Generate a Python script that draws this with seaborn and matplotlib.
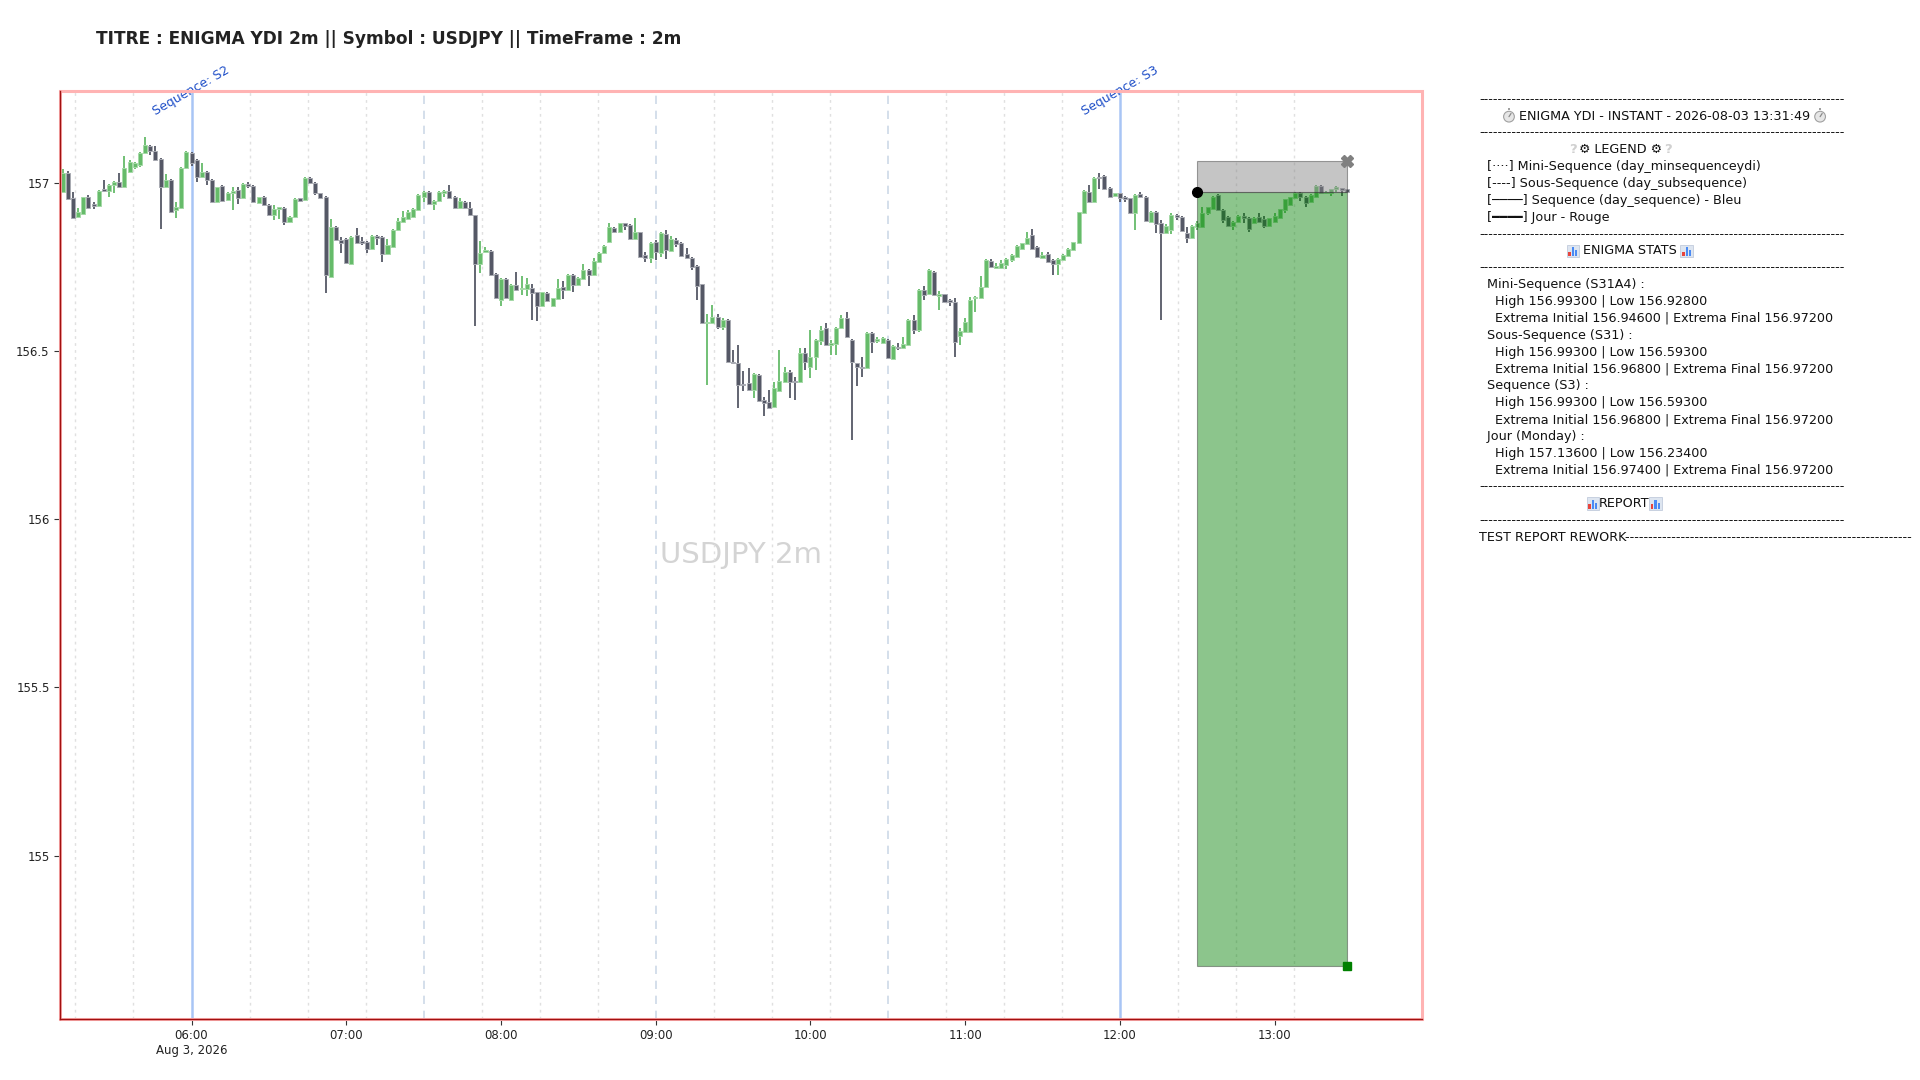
import numpy as np
import pandas as pd
import matplotlib
matplotlib.use("Agg")
import matplotlib.pyplot as plt
import matplotlib.dates as mdates
from matplotlib.patches import Rectangle, Circle
import seaborn as sns

# USDJPY 2m candles, Monday 3 Aug 2026, first candle 05:10
start = "2026-08-03 05:10"
opens = [156.973, 157.029, 156.955, 156.899, 156.906, 156.958, 156.936, 156.930, 156.980, 156.976,
         156.993, 157.003, 156.988, 157.032, 157.047, 157.052, 157.087, 157.109, 157.094, 157.069,
         156.986, 157.007, 156.918, 156.923, 157.042, 157.089, 157.067, 157.017, 157.032, 157.007,
         156.943, 156.990, 156.948, 156.968, 156.978, 156.953, 156.996, 156.990, 156.940, 156.958,
         156.933, 156.904, 156.921, 156.923, 156.884, 156.899, 156.953, 156.948, 157.012, 157.000,
         156.968, 156.958, 156.720, 156.869, 156.829, 156.831, 156.757, 156.844, 156.826, 156.824,
         156.804, 156.841, 156.839, 156.787, 156.809, 156.859, 156.883, 156.893, 156.898, 156.918,
         156.958, 156.973, 156.935, 156.945, 156.970, 156.975, 156.958, 156.923, 156.943, 156.925,
         156.903, 156.757, 156.795, 156.797, 156.727, 156.651, 156.713, 156.651, 156.697, 156.684,
         156.684, 156.688, 156.674, 156.634, 156.671, 156.634, 156.654, 156.690, 156.681, 156.725,
         156.696, 156.713, 156.740, 156.725, 156.763, 156.790, 156.824, 156.866, 156.852, 156.879,
         156.874, 156.832, 156.852, 156.785, 156.775, 156.824, 156.790, 156.846, 156.797, 156.829,
         156.819, 156.787, 156.777, 156.753, 156.698, 156.582, 156.582, 156.602, 156.572, 156.592,
         156.468, 156.463, 156.401, 156.404, 156.384, 156.428, 156.354, 156.347, 156.334, 156.381,
         156.408, 156.436, 156.409, 156.408, 156.493, 156.453, 156.483, 156.529, 156.567, 156.517,
         156.520, 156.567, 156.599, 156.532, 156.463, 156.453, 156.450, 156.552, 156.530, 156.522,
         156.532, 156.475, 156.512, 156.507, 156.517, 156.592, 156.562, 156.681, 156.668, 156.735,
         156.664, 156.668, 156.651, 156.646, 156.545, 156.557, 156.557, 156.656, 156.658, 156.691,
         156.767, 156.745, 156.747, 156.755, 156.770, 156.780, 156.804, 156.816, 156.844, 156.809,
         156.775, 156.787, 156.770, 156.757, 156.770, 156.783, 156.800, 156.819, 156.908, 156.971,
         156.943, 157.017, 157.020, 156.985, 156.961, 156.968, 156.958, 156.953, 156.908, 156.965,
         156.958, 156.884, 156.913, 156.879, 156.849, 156.859, 156.903, 156.898, 156.849, 156.834,
         156.867, 156.867, 156.908, 156.920, 156.963, 156.918, 156.898, 156.871, 156.884, 156.900,
         156.896, 156.879, 156.898, 156.891, 156.871, 156.884, 156.894, 156.918, 156.933, 156.953,
         156.968, 156.958, 156.943, 156.958, 156.990, 156.970, 156.970, 156.980, 156.983, 156.980]
highs = [157.039, 157.033, 156.973, 156.923, 156.958, 156.963, 156.943, 156.978, 157.007, 156.995,
         157.005, 157.029, 157.079, 157.067, 157.062, 157.092, 157.136, 157.111, 157.107, 157.072,
         157.025, 157.010, 156.943, 157.045, 157.095, 157.092, 157.069, 157.059, 157.035, 157.010,
         156.988, 156.993, 156.973, 156.986, 156.988, 156.998, 157.003, 156.993, 156.958, 156.960,
         156.935, 156.933, 156.928, 156.926, 156.901, 156.953, 156.955, 157.015, 157.015, 157.002,
         156.970, 156.960, 156.891, 156.871, 156.839, 156.834, 156.841, 156.866, 156.839, 156.826,
         156.844, 156.844, 156.841, 156.831, 156.861, 156.895, 156.915, 156.918, 156.923, 156.965,
         156.975, 156.975, 156.948, 156.975, 156.978, 156.992, 156.960, 156.955, 156.945, 156.943,
         156.905, 156.826, 156.809, 156.800, 156.730, 156.716, 156.716, 156.698, 156.735, 156.723,
         156.717, 156.700, 156.676, 156.676, 156.676, 156.658, 156.713, 156.707, 156.727, 156.727,
         156.718, 156.757, 156.742, 156.775, 156.795, 156.814, 156.881, 156.869, 156.881, 156.881,
         156.876, 156.894, 156.854, 156.795, 156.822, 156.829, 156.852, 156.859, 156.842, 156.836,
         156.822, 156.806, 156.780, 156.755, 156.700, 156.609, 156.636, 156.609, 156.599, 156.594,
         156.503, 156.518, 156.440, 156.450, 156.433, 156.430, 156.364, 156.384, 156.408, 156.503,
         156.453, 156.443, 156.423, 156.508, 156.508, 156.562, 156.535, 156.575, 156.582, 156.532,
         156.572, 156.607, 156.616, 156.535, 156.465, 156.483, 156.555, 156.555, 156.542, 156.542,
         156.535, 156.518, 156.522, 156.542, 156.594, 156.605, 156.684, 156.694, 156.743, 156.737,
         156.678, 156.670, 156.653, 156.658, 156.567, 156.597, 156.661, 156.663, 156.723, 156.773,
         156.773, 156.760, 156.770, 156.775, 156.787, 156.814, 156.821, 156.854, 156.862, 156.811,
         156.795, 156.793, 156.772, 156.775, 156.787, 156.806, 156.824, 156.913, 156.977, 156.993,
         157.016, 157.027, 157.022, 156.987, 156.970, 156.970, 156.961, 156.955, 156.965, 156.971,
         156.960, 156.916, 156.916, 156.889, 156.876, 156.908, 156.906, 156.900, 156.869, 156.874,
         156.887, 156.928, 156.928, 156.960, 156.965, 156.920, 156.900, 156.886, 156.903, 156.908,
         156.898, 156.898, 156.908, 156.900, 156.896, 156.908, 156.922, 156.952, 156.958, 156.973,
         156.973, 156.960, 156.965, 156.992, 156.993, 156.975, 156.982, 156.990, 156.985, 156.982]
lows = [156.968, 156.948, 156.892, 156.897, 156.904, 156.920, 156.920, 156.928, 156.973, 156.956,
        156.970, 156.983, 156.986, 157.029, 157.039, 157.045, 157.084, 157.082, 157.064, 156.861,
        156.983, 156.910, 156.894, 156.920, 157.040, 157.049, 157.003, 157.015, 156.993, 156.940,
        156.940, 156.943, 156.946, 156.918, 156.936, 156.950, 156.983, 156.940, 156.938, 156.930,
        156.901, 156.889, 156.891, 156.874, 156.879, 156.897, 156.943, 156.946, 156.997, 156.963,
        156.953, 156.671, 156.718, 156.826, 156.790, 156.757, 156.755, 156.817, 156.814, 156.790,
        156.801, 156.814, 156.765, 156.784, 156.806, 156.856, 156.880, 156.890, 156.895, 156.915,
        156.943, 156.933, 156.918, 156.943, 156.958, 156.953, 156.920, 156.920, 156.920, 156.900,
        156.575, 156.730, 156.790, 156.722, 156.655, 156.634, 156.653, 156.648, 156.679, 156.666,
        156.664, 156.592, 156.588, 156.631, 156.644, 156.631, 156.651, 156.654, 156.679, 156.676,
        156.693, 156.710, 156.693, 156.722, 156.760, 156.787, 156.821, 156.849, 156.849, 156.859,
        156.830, 156.830, 156.777, 156.765, 156.760, 156.770, 156.780, 156.772, 156.794, 156.809,
        156.780, 156.772, 156.740, 156.651, 156.580, 156.399, 156.579, 156.565, 156.562, 156.466,
        156.461, 156.329, 156.381, 156.381, 156.361, 156.349, 156.305, 156.329, 156.331, 156.379,
        156.406, 156.359, 156.354, 156.406, 156.443, 156.418, 156.443, 156.517, 156.515, 156.488,
        156.488, 156.565, 156.540, 156.234, 156.396, 156.423, 156.448, 156.493, 156.522, 156.520,
        156.475, 156.473, 156.503, 156.505, 156.515, 156.549, 156.557, 156.651, 156.666, 156.663,
        156.621, 156.643, 156.634, 156.483, 156.517, 156.555, 156.555, 156.616, 156.656, 156.689,
        156.747, 156.743, 156.743, 156.743, 156.765, 156.777, 156.800, 156.814, 156.802, 156.775,
        156.772, 156.762, 156.725, 156.725, 156.767, 156.780, 156.797, 156.817, 156.906, 156.941,
        156.941, 156.981, 156.978, 156.956, 156.958, 156.943, 156.943, 156.906, 156.859, 156.953,
        156.883, 156.881, 156.849, 156.593, 156.846, 156.846, 156.889, 156.854, 156.821, 156.831,
        156.859, 156.864, 156.905, 156.918, 156.915, 156.881, 156.869, 156.859, 156.881, 156.881,
        156.854, 156.876, 156.881, 156.864, 156.869, 156.881, 156.891, 156.908, 156.930, 156.950,
        156.946, 156.928, 156.940, 156.955, 156.968, 156.966, 156.960, 156.973, 156.960, 156.970]
closes = [157.027, 156.950, 156.894, 156.913, 156.956, 156.923, 156.930, 156.976, 156.976, 156.993,
          157.003, 156.988, 157.042, 157.062, 157.059, 157.089, 157.111, 157.095, 157.067, 156.988,
          157.006, 156.913, 156.928, 157.042, 157.092, 157.059, 157.017, 157.032, 157.007, 156.943,
          156.986, 156.946, 156.970, 156.975, 156.953, 156.996, 156.990, 156.943, 156.956, 156.933,
          156.904, 156.920, 156.926, 156.884, 156.899, 156.950, 156.946, 157.012, 157.000, 156.968,
          156.955, 156.725, 156.869, 156.829, 156.821, 156.760, 156.839, 156.819, 156.819, 156.804,
          156.841, 156.834, 156.787, 156.814, 156.859, 156.886, 156.898, 156.913, 156.920, 156.963,
          156.973, 156.935, 156.945, 156.973, 156.975, 156.955, 156.923, 156.945, 156.923, 156.903,
          156.757, 156.792, 156.800, 156.725, 156.658, 156.713, 156.656, 156.696, 156.681, 156.688,
          156.698, 156.671, 156.634, 156.674, 156.648, 156.656, 156.686, 156.681, 156.725, 156.696,
          156.715, 156.740, 156.725, 156.767, 156.792, 156.812, 156.869, 156.852, 156.879, 156.871,
          156.832, 156.854, 156.780, 156.777, 156.819, 156.795, 156.849, 156.800, 156.832, 156.816,
          156.783, 156.775, 156.750, 156.694, 156.582, 156.585, 156.602, 156.572, 156.592, 156.468,
          156.463, 156.399, 156.399, 156.384, 156.430, 156.351, 156.344, 156.331, 156.391, 156.411,
          156.436, 156.408, 156.407, 156.493, 156.468, 156.483, 156.532, 156.562, 156.517, 156.522,
          156.569, 156.597, 156.542, 156.468, 156.453, 156.450, 156.552, 156.527, 156.535, 156.539,
          156.478, 156.515, 156.507, 156.520, 156.591, 156.562, 156.681, 156.666, 156.740, 156.666,
          156.668, 156.646, 156.644, 156.525, 156.559, 156.585, 156.651, 156.661, 156.691, 156.770,
          156.750, 156.753, 156.760, 156.773, 156.785, 156.812, 156.819, 156.836, 156.804, 156.780,
          156.785, 156.765, 156.757, 156.773, 156.785, 156.804, 156.822, 156.911, 156.975, 156.943,
          157.014, 157.012, 156.981, 156.958, 156.968, 156.955, 156.951, 156.908, 156.963, 156.958,
          156.886, 156.913, 156.876, 156.849, 156.872, 156.905, 156.898, 156.856, 156.834, 156.871,
          156.881, 156.910, 156.926, 156.958, 156.918, 156.889, 156.871, 156.884, 156.901, 156.894,
          156.861, 156.896, 156.884, 156.871, 156.894, 156.901, 156.920, 156.950, 156.956, 156.968,
          156.958, 156.938, 156.963, 156.990, 156.970, 156.973, 156.980, 156.986, 156.978, 156.972]

# sequence / sub-sequence markers
seq_times = ["2026-08-03 06:00", "2026-08-03 12:00"]
seq_names = ["Sequence: S2", "Sequence: S3"]
sub_times = ["2026-08-03 07:30", "2026-08-03 09:00", "2026-08-03 10:30"]

# position tool
pos_start = "2026-08-03 12:30"
pos_end = "2026-08-03 13:28"
pos_entry = 156.972
pos_stop = 157.065
pos_target = 154.673

hour_ticks = ["06:00", "07:00", "08:00", "09:00", "10:00", "11:00", "12:00", "13:00"]
ytick_vals = [155.0, 155.5, 156.0, 156.5, 157.0]

# icons {W} stopwatch, {Q} question mark, {C} bar chart: no installed font has them
panel_lines = [
    "-" * 79,
    "      {W} ENIGMA YDI - INSTANT - 2026-08-03 13:31:49 {W}",
    "-" * 79,
    "                      {Q}\u2699 LEGEND \u2699{Q}",
    "  [\u00b7\u00b7\u00b7\u00b7] Mini-Sequence (day_minsequenceydi)",
    "  [----] Sous-Sequence (day_subsequence)",
    "  [\u2500\u2500\u2500\u2500] Sequence (day_sequence) - Bleu",
    "  [\u2501\u2501\u2501\u2501] Jour - Rouge",
    "-" * 79,
    "                      {C} ENIGMA STATS {C}",
    "-" * 79,
    "  Mini-Sequence (S31A4) :",
    "    High 156.99300 | Low 156.92800",
    "    Extrema Initial 156.94600 | Extrema Final 156.97200",
    "  Sous-Sequence (S31) :",
    "    High 156.99300 | Low 156.59300",
    "    Extrema Initial 156.96800 | Extrema Final 156.97200",
    "  Sequence (S3) :",
    "    High 156.99300 | Low 156.59300",
    "    Extrema Initial 156.96800 | Extrema Final 156.97200",
    "  Jour (Monday) :",
    "    High 157.13600 | Low 156.23400",
    "    Extrema Initial 156.97400 | Extrema Final 156.97200",
    "-" * 79,
    "                           {C}REPORT{C}",
    "-" * 79,
    "TEST REPORT REWORK" + "-" * 62,
]
icon_spaces = {"W": 3, "Q": 3, "C": 3}

sns.set_style("white")
plt.rcParams["font.family"] = ["DejaVu Sans", "Noto Sans CJK JP"]

df = pd.DataFrame({"open": opens, "high": highs, "low": lows, "close": closes})
df["time"] = pd.date_range(start, periods=len(df), freq="2min")
df["x"] = mdates.date2num(df["time"])
df["up"] = df["close"] >= df["open"]

up_col = "#66bb6a"
dn_col = "#555866"
colors = np.where(df["up"], up_col, dn_col)

W, H = 1920, 1080
fig = plt.figure(figsize=(19.2, 10.8), dpi=100)
ax = fig.add_axes([0.03125, 0.0567, 0.70915, 0.8594])

# vertical structure lines
t0 = pd.Timestamp("2026-08-03 00:00")
mini = pd.date_range(t0, df["time"].iloc[-1], freq="22.5min")
mini = [t for t in mini if t >= df["time"].iloc[0] and ((t - t0).seconds % 5400) != 0]
for t in mini:
    ax.axvline(mdates.date2num(t), color="#e0e0e0", ls=(0, (2, 3)), lw=1.0, zorder=1)
for t in sub_times:
    ax.axvline(mdates.date2num(pd.Timestamp(t)), color="#cdd9e8", ls=(0, (5, 4)), lw=1.2, zorder=1)
for t, name in zip(seq_times, seq_names):
    xv = mdates.date2num(pd.Timestamp(t))
    ax.axvline(xv, color="#6f9fef", alpha=0.6, lw=1.8, zorder=1)
    ax.text(xv, 1.0, name, transform=ax.get_xaxis_transform(), rotation=30,
            ha="center", va="center", color="#1f4fc8", fontsize=9, clip_on=False)

# watermark
ax.text(0.5, 0.5, "USDJPY 2m", transform=ax.transAxes, fontsize=21,
        color="#d4d4d4", ha="center", va="center", zorder=0)

# candles
bw = 2 / 1440 * 0.78
ax.vlines(df["x"], df["low"], df["high"], colors=colors, lw=1.3, zorder=3)
body_low = np.minimum(df["open"], df["close"])
body_h = np.maximum((df["close"] - df["open"]).abs(), 0.003)
ax.bar(df["x"], body_h, bottom=body_low, width=bw, color=colors,
       edgecolor=np.where(df["up"], "#a5d9a7", "#a9abb3"), linewidth=0.7, zorder=4)

# position box
xs = mdates.date2num(pd.Timestamp(pos_start))
xe = mdates.date2num(pd.Timestamp(pos_end))
ax.add_patch(Rectangle((xs, pos_target), xe - xs, pos_entry - pos_target,
                       facecolor="green", alpha=0.45, edgecolor="#333333", lw=0.8, zorder=5))
ax.add_patch(Rectangle((xs, pos_entry), xe - xs, pos_stop - pos_entry,
                       facecolor="gray", alpha=0.45, edgecolor="#333333", lw=0.8, zorder=5))
ax.plot([xs], [pos_entry], "o", color="black", ms=7, zorder=7)
ax.plot([xe], [pos_stop], "X", color="gray", ms=8, zorder=7)
ax.plot([xe], [pos_target], "s", color="green", ms=6, zorder=7)

# axes frame
ax.set_xlim(mdates.date2num(pd.Timestamp("2026-08-03 05:09")),
            mdates.date2num(pd.Timestamp("2026-08-03 13:57")))
ax.set_ylim(154.516, 157.273)
for s in ["top", "right"]:
    ax.spines[s].set_visible(False)
for s in ["left", "bottom"]:
    ax.spines[s].set_color("#a01010")
    ax.spines[s].set_linewidth(1.0)
    ax.spines[s].set_zorder(9)
ax.add_patch(Rectangle((0, 0), 1, 1, transform=ax.transAxes, fill=False,
                       edgecolor="#ffb3b3", lw=2.2, clip_on=False, zorder=8))

tick_x = [mdates.date2num(pd.Timestamp("2026-08-03 " + h)) for h in hour_ticks]
tick_lab = [h if i else h + "\nAug 3, 2026" for i, h in enumerate(hour_ticks)]
ax.set_xticks(tick_x)
ax.set_xticklabels(tick_lab)
ax.set_yticks(ytick_vals)
ax.set_yticklabels(["%g" % v for v in ytick_vals])
ax.tick_params(axis="both", labelsize=8.5, length=4, width=0.8, color="#333333",
               labelcolor="#222222", bottom=True, left=True)
ax.grid(False)

fig.text(0.05, 0.9637, "TITRE : ENIGMA YDI 2m || Symbol : USDJPY || TimeFrame : 2m",
         fontsize=12.25, fontweight="bold", color="#222222", va="center")

# right-hand info panel
FS = 9.2
EM = FS * 100 / 72
overlay = fig.add_axes([0, 0, 1, 1], zorder=10)
overlay.set_xlim(0, W)
overlay.set_ylim(H, 0)
overlay.axis("off")
renderer = fig.canvas.get_renderer()


def text_width(s):
    t = fig.text(0, 0, s, fontsize=FS)
    w = t.get_window_extent(renderer).width
    t.remove()
    return w


SP = (text_width("x" * 10 + " " * 10 + "x") - text_width("x" * 11)) / 10.0


def prefix_width(s):
    if not s:
        return 0.0
    return text_width(s + "x") - text_width("x")


def draw_icon(kind, cx, cy):
    if kind == "W":
        overlay.add_patch(Circle((cx, cy + 0.6), 0.42 * EM, fc="#e6e6e6", ec="#a0a0a0", lw=0.8))
        overlay.add_patch(Rectangle((cx - 0.09 * EM, cy - 0.62 * EM), 0.18 * EM, 0.16 * EM,
                                    fc="#a0a0a0", ec="none"))
        overlay.plot([cx, cx + 0.16 * EM], [cy + 0.6, cy - 0.2 * EM], color="#8a8a8a", lw=0.9)
    elif kind == "Q":
        overlay.text(cx, cy, "?", fontsize=FS + 0.5, fontweight="bold", color="#d0d0d0",
                     ha="center", va="center")
    elif kind == "C":
        s = 1.0 * EM
        overlay.add_patch(Rectangle((cx - s / 2, cy - s / 2), s, s, fc="#dde5f0", ec="#b8c4d6", lw=0.5))
        for k, (hgt, col) in enumerate([(0.35, "#e8453c"), (0.7, "#4a8af4"), (0.5, "#4a8af4")]):
            bx = cx - s / 2 + s * (0.14 + 0.26 * k)
            overlay.add_patch(Rectangle((bx, cy + s / 2 - 0.1 * s - hgt * s), 0.18 * s, hgt * s,
                                        fc=col, ec="none"))


x0 = 0.7703 * W
for i, line in enumerate(panel_lines):
    y = 99.2 + 16.86 * i
    parts = line.replace("{W}", "\x00W").replace("{Q}", "\x00Q").replace("{C}", "\x00C").split("\x00")
    # text pieces drawn one by one, icons placed in reserved room between them
    full = parts[0]
    pieces = [(full, "")]
    for p in parts[1:]:
        kind = p[0]
        xl = x0 + prefix_width(full)
        draw_icon(kind, xl + icon_spaces[kind] * SP / 2, y)
        full += " " * icon_spaces[kind]
        pieces.append((p[1:], full))
        full += p[1:]
    for seg, before in pieces:
        if seg.strip():
            fig.text((x0 + prefix_width(before)) / W, 1 - y / H, seg, fontsize=FS,
                     color="#111111", va="center", ha="left")

fig.savefig("out.png", dpi=100)
